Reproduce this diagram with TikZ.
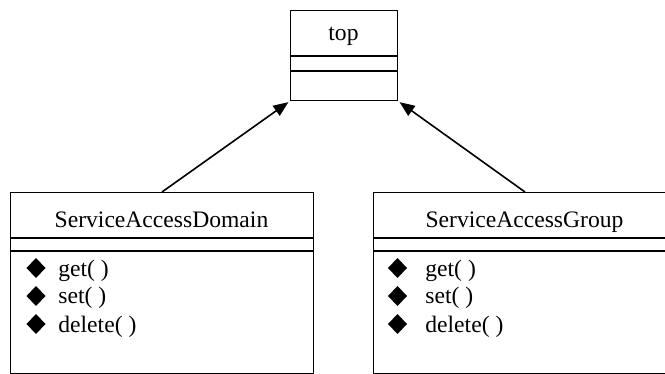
\documentclass[tikz,border=0pt]{standalone}
\usepackage{fontspec}
\setmainfont{Liberation Serif}
\usetikzlibrary{positioning}
\usetikzlibrary{arrows.meta}

\tikzset{
  classbox/.style={draw=black, line width=0.5pt, minimum width=151.5pt, minimum height=90.5pt, inner sep=0pt, anchor=north west},
  divline/.style={black, line width=0.9pt},
  optext/.style={anchor=base west, inner sep=0pt},
  nametext/.style={anchor=base, inner sep=0pt},
  inherit/.style={black, line width=0.8pt, -{Triangle[length=7.5pt,width=6pt]}, shorten >=1pt}
}

\begin{document}
\begin{tikzpicture}[x=0.5pt,y=-0.5pt, font=\fontsize{11.8pt}{13.5pt}\selectfont]
\useasboundingbox (0,0) rectangle (665,374);

\begin{scope}[shift={(0,0)}]{
\node[classbox, minimum width=53.5pt, minimum height=45pt] (top) at (290,10) {};
\node[nametext] (topname) at (343.5,41) {top};
\draw[divline] (290,56)--++(107,0);
\draw[divline] (290,71)--++(107,0);
} \end{scope}

\begin{scope}[shift={(10,192)}]{
\node[classbox] (dom) at (0,0) {};
\node[nametext] (domname) at (151.5,35.5) {ServiceAccessDomain};
\draw[divline] (0,46)--++(303,0);
\draw[divline] (0,59)--++(303,0);

\fill (26,66)--++(9.5,10)--++(-9.5,10)--++(-9.5,-10)--cycle;
\fill (26,94)--++(9.5,10)--++(-9.5,10)--++(-9.5,-10)--cycle;
\fill (26,122)--++(9.5,10)--++(-9.5,10)--++(-9.5,-10)--cycle;
\node[optext] (domget) at (48,85) {get( )};
\node[optext] (domset) at (48,112) {set( )};
\node[optext] (domdel) at (48,140) {delete( )};
} \end{scope}

\begin{scope}[shift={(373,192)}]{
\node[classbox] (grp) at (0,0) {};
\node[nametext] (grpname) at (151.5,35.5) {ServiceAccessGroup};
\draw[divline] (0,46)--++(303,0);
\draw[divline] (0,59)--++(303,0);

\fill (24.5,66)--++(9.5,10)--++(-9.5,10)--++(-9.5,-10)--cycle;
\fill (24.5,94)--++(9.5,10)--++(-9.5,10)--++(-9.5,-10)--cycle;
\fill (24.5,122)--++(9.5,10)--++(-9.5,10)--++(-9.5,-10)--cycle;
\node[optext] (grpget) at (52,85) {get( )};
\node[optext] (grpset) at (52,112) {set( )};
\node[optext] (grpdel) at (52,140) {delete( )};
} \end{scope}

\draw[inherit] (dom.north) -- (top.south west);
\draw[inherit] (grp.north) -- (top.south east);

\end{tikzpicture}
\end{document}
